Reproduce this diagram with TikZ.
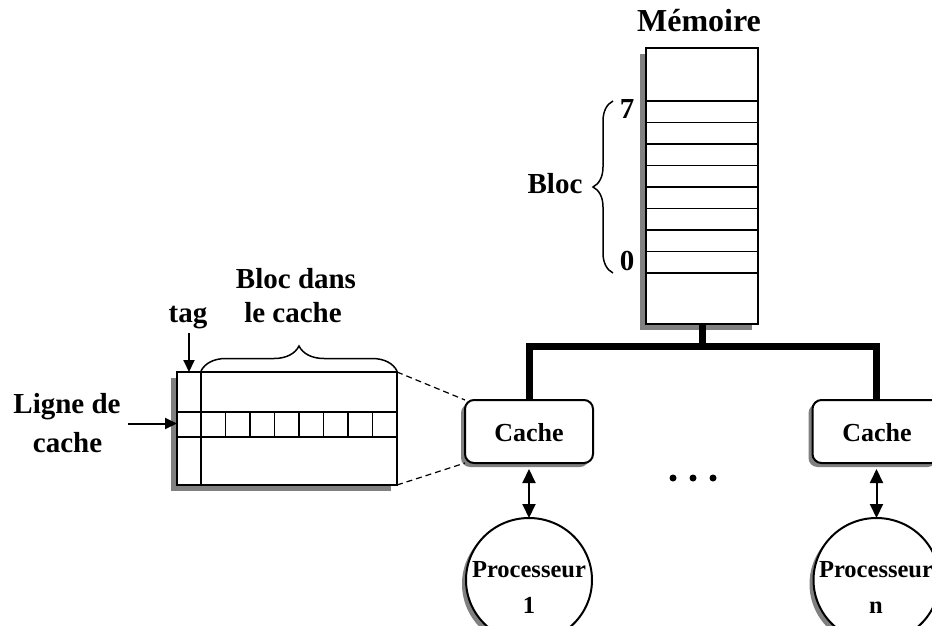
\documentclass[tikz,border=0pt]{standalone}
\usepackage{fontspec}
\setmainfont{Liberation Serif}
\usetikzlibrary{arrows.meta,shapes.geometric,decorations.pathreplacing,shadows}
\definecolor{shadowgray}{HTML}{808080}

\begin{document}
\begin{tikzpicture}[x=1pt,y=-1pt,
  txt/.style={font=\bfseries\fontsize{29}{34}\selectfont, inner sep=0pt, anchor=base},
  titletxt/.style={font=\bfseries\fontsize{32}{36}\selectfont, inner sep=0pt, anchor=base},
  smalltxt/.style={font=\bfseries\fontsize{26}{30}\selectfont, inner sep=0pt, anchor=base},
  proctxt/.style={font=\bfseries\fontsize{24.5}{28}\selectfont, inner sep=0pt, anchor=base},
  boxline/.style={line width=2pt},
  thinline/.style={line width=1.8pt},
  bigshadow/.style={drop shadow={shadow xshift=-6pt, shadow yshift=-6pt, fill=shadowgray, opacity=1}},
  smallshadow/.style={drop shadow={shadow xshift=-4pt, shadow yshift=-4pt, fill=shadowgray, opacity=1}},
  memory/.style={boxline, draw, fill=white, bigshadow, rectangle, inner sep=0pt, outer sep=0pt,
    minimum width=112pt, minimum height=276pt},
  linetable/.style={boxline, draw, fill=white, bigshadow, rectangle, inner sep=0pt, outer sep=0pt,
    minimum width=220pt, minimum height=113pt},
  cachebox/.style={boxline, draw, fill=white, smallshadow, rectangle, rounded corners=9pt,
    inner sep=0pt, outer sep=0pt, minimum width=128pt, minimum height=63pt},
  proc/.style={boxline, draw, fill=white, smallshadow, ellipse, inner sep=0pt, outer sep=0pt,
    minimum width=126pt, minimum height=124pt},
  busline/.style={line width=7pt, line join=miter},
  arrowline/.style={-{Triangle[length=12pt,width=11pt]}, line width=2pt},
  dblarrow/.style={{Triangle[length=14pt,width=13pt]}-{Triangle[length=14pt,width=13pt]}, line width=2pt},
  zoomline/.style={line width=1.2pt, dash pattern=on 6pt off 4pt},
  bracedeco/.style={decorate, line width=1.5pt, decoration={brace, amplitude=#1}}
]
\useasboundingbox (0,0) rectangle (932,626);

% ---- main memory with its block lines ----
\node[memory] (mem) at (702,186) {};
\foreach \k in {0,...,8}
  \draw[thinline] (646,{101+21.5*\k}) -- (758,{101+21.5*\k});
\node[titletxt] (memlbl) at (699,32) {Mémoire};
\draw[bracedeco=20pt] (613,273) -- (613,101);
\node[txt] (b7) at (627,118) {7};
\node[txt] (b0) at (627,270) {0};
\node[txt] (bloc) at (555,193) {Bloc};

% ---- caches and processors ----
\node[cachebox] (c1) at (529,431.5) {};
\node[smalltxt] (c1lbl) at (529,441) {Cache};
\node[cachebox] (cn) at (876.5,431.5) {};
\node[smalltxt] (cnlbl) at (877,441) {Cache};

\node[proc] (p1) at (529,580) {};
\node[proctxt] (p1a) at (529,577) {Processeur};
\node[proctxt] (p1b) at (529,613) {1};
\node[proc] (pn) at (876.5,580) {};
\node[proctxt] (pna) at (876,577) {Processeur};
\node[proctxt] (pnb) at (876,613) {n};

\draw[dblarrow, shorten <=6pt] (c1.south) -- (p1.north);
\draw[dblarrow, shorten <=6pt] (cn.south) -- (pn.north);

% ---- shared bus ----
\coordinate (busy) at (0,346.5);
\draw[busline] (mem.south) -- (mem.south |- busy);
\draw[busline] (c1.north) -- (c1.north |- busy) -- (cn.north |- busy) -- (cn.north);

% ---- ellipsis between processors ----
\foreach \x [count=\i] in {673,693,713}
  \fill (\x,478) circle (3.5pt) coordinate (dot\i);

% ---- detail of a cache: tag column and lines ----
\node[linetable] (tab) at (287,428.5) {};
\draw[boxline] (201,372) -- (201,485);
\draw[boxline] (177,412) -- (397,412);
\draw[boxline] (177,437) -- (397,437);
\foreach \k in {1,...,7}
  \draw[thinline] ({201+24.5*\k},412) -- ({201+24.5*\k},437);

\draw[bracedeco=25pt] (201,371) -- (397,371);
\node[txt] (bd1) at (296,288) {Bloc dans};
\node[txt] (bd2) at (293,322) {le cache};

\node[txt] (tag) at (188,322) {tag};
\coordinate (tagtail) at (189,333);
\draw[arrowline] (tagtail) -- (tagtail |- tab.north);

\node[txt] (lg1) at (67,413) {Ligne de};
\node[txt] (lg2) at (67.5,452) {cache};
\coordinate (lgtail) at (128,423.5);
\draw[arrowline] (lgtail) -- (lgtail -| tab.west);

% ---- zoom lines from the detail to the first cache ----
\draw[zoomline] (tab.north east) -- (c1.north west);
\draw[zoomline] (tab.south east) -- (c1.south west);
\end{tikzpicture}
\end{document}
